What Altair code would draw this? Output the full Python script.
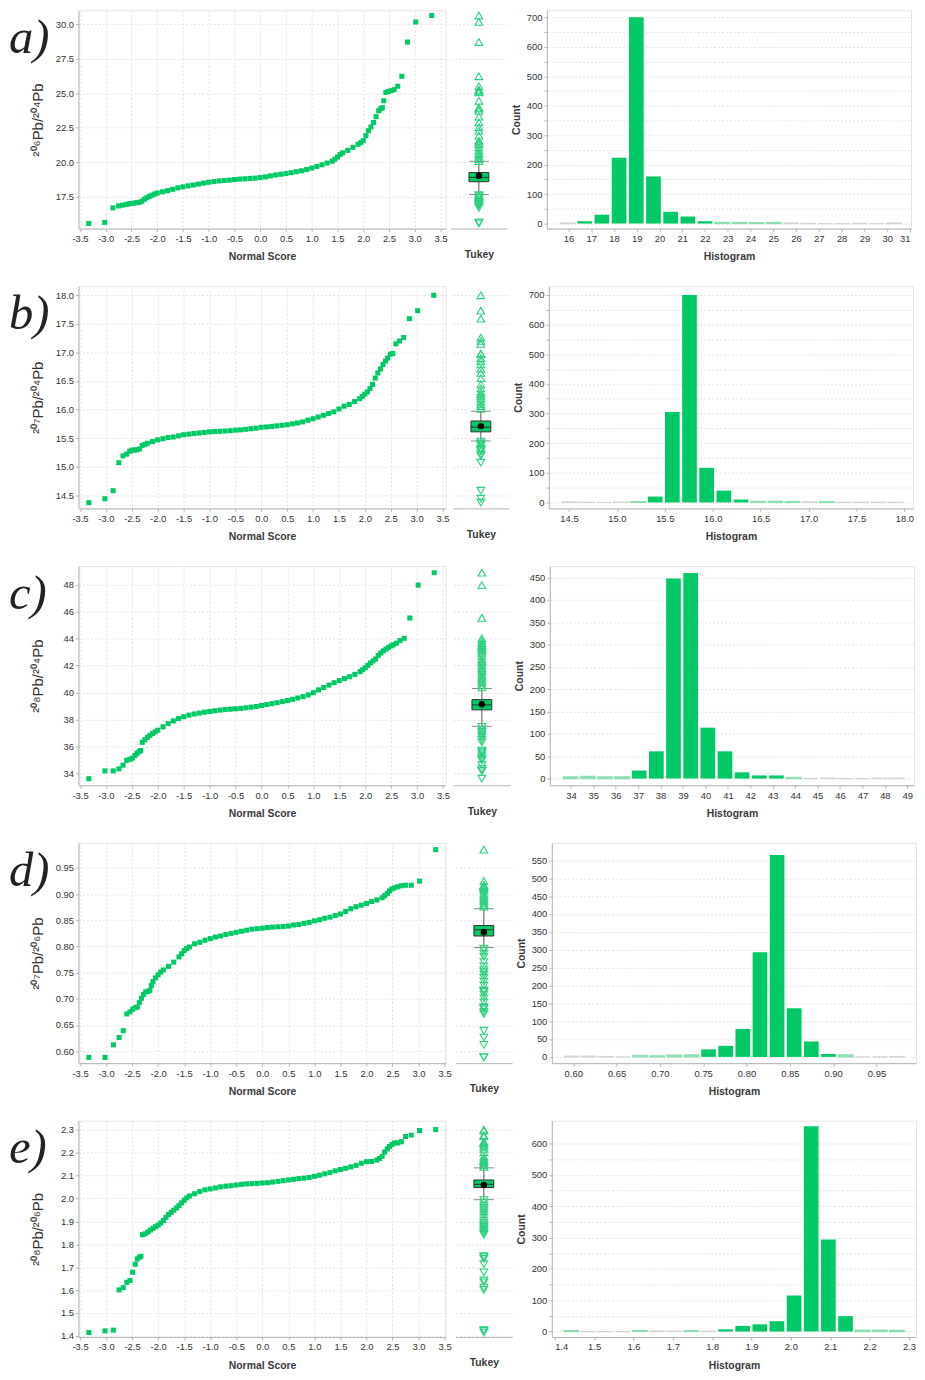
import altair as alt
import pandas as pd

GREEN = "#00c965"
TRI = "#2bd07f"

QQ_XTICKS = [-3.5, -3.0, -2.5, -2.0, -1.5, -1.0, -0.5, 0.0, 0.5, 1.0, 1.5, 2.0, 2.5, 3.0, 3.5]

# ---------------- a) 206Pb/204Pb ----------------
A_LABEL = "a)"
A_TITLE = "²⁰⁶Pb/²⁰⁴Pb"
A_QQ_X = [-3.33, -3.02, -2.86, -2.75, -2.67, -2.60, -2.55, -2.50, -2.45, -2.40, -2.35, -2.30, -2.25,
          -2.20, -2.15, -2.10, -2.05, -2.00, -1.90, -1.80, -1.70, -1.60, -1.50, -1.40, -1.30, -1.20,
          -1.10, -1.00, -0.90, -0.80, -0.70, -0.60, -0.50, -0.40, -0.30, -0.20, -0.10, 0.00, 0.10,
          0.20, 0.30, 0.40, 0.50, 0.60, 0.70, 0.80, 0.90, 1.00, 1.10, 1.20, 1.30, 1.40, 1.45, 1.50,
          1.55, 1.60, 1.70, 1.80, 1.90, 1.95, 2.00, 2.05, 2.10, 2.15, 2.20, 2.25, 2.30, 2.34, 2.37,
          2.40, 2.44, 2.49, 2.54, 2.60, 2.67, 2.75, 2.86, 3.02, 3.33]
A_QQ_Y = [15.57, 15.65, 16.70, 16.84, 16.90, 16.95, 16.99, 17.02, 17.04, 17.07, 17.10, 17.18, 17.32,
          17.44, 17.54, 17.62, 17.70, 17.77, 17.86, 17.94, 18.04, 18.15, 18.22, 18.29, 18.35, 18.42,
          18.49, 18.55, 18.60, 18.65, 18.68, 18.71, 18.75, 18.78, 18.80, 18.83, 18.85, 18.89, 18.94,
          19.01, 19.08, 19.13, 19.18, 19.25, 19.31, 19.38, 19.47, 19.58, 19.70, 19.82, 19.94, 20.08,
          20.22, 20.38, 20.56, 20.68, 20.86, 21.08, 21.30, 21.42, 21.56, 21.92, 22.28, 22.55, 22.88,
          23.30, 23.72, 23.88, 23.95, 24.45, 25.05, 25.12, 25.18, 25.25, 25.50, 26.22, 28.70, 30.15,
          30.62]
# lower whisker, Q1, median, Q3, upper whisker, mean
A_TUKEY = [17.66, 18.59, 18.90, 19.26, 20.07, 19.02]
A_HIST_RANGE = [15.56, 30.66]
A_HIST_COUNT = [2, 8, 30, 223, 700, 160, 40, 24, 8, 4, 4, 3, 4, 2, 1, 0, 0, 1, 0, 2]
A_QQ_YTICKS = [17.5, 20.0, 22.5, 25.0, 27.5, 30.0]
A_QQ_YDOMAIN = [15.2, 31.0]
A_HIST_XTICKS = [16, 17, 18, 19, 20, 21, 22, 23, 24, 25, 26, 27, 28, 29, 30, 31]
A_HIST_XDOMAIN = [15.05, 31.05]
A_HIST_YTICKS = [0, 50, 100, 150, 200, 250, 300, 350, 400, 450, 500, 550, 600, 650, 700]
A_HIST_YDOMAIN = [-17, 724]

# ---------------- b) 207Pb/204Pb ----------------
B_LABEL = "b)"
B_TITLE = "²⁰⁷Pb/²⁰⁴Pb"
B_QQ_X = [-3.33, -3.02, -2.86, -2.75, -2.67, -2.60, -2.54, -2.50, -2.45, -2.40, -2.35, -2.30, -2.25,
          -2.20, -2.10, -2.00, -1.90, -1.80, -1.70, -1.60, -1.50, -1.40, -1.30, -1.20, -1.10, -1.00,
          -0.90, -0.80, -0.70, -0.60, -0.50, -0.40, -0.30, -0.20, -0.10, 0.00, 0.10, 0.20, 0.30,
          0.40, 0.50, 0.60, 0.70, 0.80, 0.90, 1.00, 1.10, 1.20, 1.30, 1.40, 1.50, 1.60, 1.70, 1.80,
          1.90, 1.95, 2.00, 2.05, 2.10, 2.15, 2.20, 2.25, 2.30, 2.35, 2.40, 2.44, 2.49, 2.54, 2.60,
          2.67, 2.75, 2.86, 3.02, 3.33]
B_QQ_Y = [14.37, 14.44, 14.58, 15.07, 15.19, 15.22, 15.27, 15.29, 15.29, 15.295, 15.31, 15.37, 15.39,
          15.41, 15.44, 15.47, 15.49, 15.51, 15.52, 15.54, 15.56, 15.57, 15.58, 15.59, 15.60, 15.61,
          15.615, 15.62, 15.625, 15.63, 15.64, 15.645, 15.655, 15.665, 15.675, 15.69, 15.695, 15.705,
          15.715, 15.725, 15.735, 15.75, 15.765, 15.785, 15.815, 15.84, 15.87, 15.90, 15.93, 15.96,
          16.01, 16.06, 16.09, 16.14, 16.19, 16.23, 16.27, 16.31, 16.37, 16.44, 16.55, 16.64, 16.71,
          16.79, 16.85, 16.90, 16.97, 16.98, 17.15, 17.20, 17.26, 17.59, 17.73, 18.00]
B_TUKEY = [15.45, 15.61, 15.69, 15.80, 15.97, 15.71]
B_HIST_RANGE = [14.41, 17.99]
B_HIST_COUNT = [2, 1, 0, 1, 3, 20, 305, 700, 117, 40, 10, 4, 4, 3, 2, 3, 1, 1, 1, 1]
B_QQ_YTICKS = [14.5, 15.0, 15.5, 16.0, 16.5, 17.0, 17.5, 18.0]
B_QQ_YDOMAIN = [14.27, 18.16]
B_HIST_XTICKS = [14.5, 15.0, 15.5, 16.0, 16.5, 17.0, 17.5, 18.0]
B_HIST_XDOMAIN = [14.29, 18.09]
B_HIST_YTICKS = [0, 50, 100, 150, 200, 250, 300, 350, 400, 450, 500, 550, 600, 650, 700]
B_HIST_YDOMAIN = [-20, 730]

# ---------------- c) 208Pb/204Pb ----------------
C_LABEL = "c)"
C_TITLE = "²⁰⁸Pb/²⁰⁴Pb"
C_QQ_X = [-3.33, -3.02, -2.86, -2.75, -2.67, -2.60, -2.54, -2.49, -2.44, -2.40, -2.36, -2.33, -2.30,
          -2.25, -2.20, -2.15, -2.10, -2.05, -2.00, -1.90, -1.80, -1.70, -1.60, -1.50, -1.40, -1.30,
          -1.20, -1.10, -1.00, -0.90, -0.80, -0.70, -0.60, -0.50, -0.40, -0.30, -0.20, -0.10, 0.00,
          0.10, 0.20, 0.30, 0.40, 0.50, 0.60, 0.70, 0.80, 0.90, 1.00, 1.10, 1.20, 1.30, 1.40, 1.50,
          1.60, 1.70, 1.80, 1.90, 1.95, 2.00, 2.05, 2.10, 2.15, 2.20, 2.25, 2.30, 2.35, 2.40, 2.45,
          2.50, 2.54, 2.60, 2.67, 2.75, 2.86, 3.02, 3.33]
C_QQ_Y = [33.61, 34.19, 34.19, 34.34, 34.61, 34.97, 35.05, 35.14, 35.34, 35.50, 35.62, 35.70, 36.31,
          36.50, 36.68, 36.83, 36.97, 37.09, 37.21, 37.46, 37.70, 37.90, 38.07, 38.21, 38.33, 38.41,
          38.48, 38.55, 38.60, 38.65, 38.70, 38.74, 38.77, 38.80, 38.83, 38.87, 38.92, 38.97, 39.04,
          39.11, 39.18, 39.25, 39.33, 39.41, 39.50, 39.60, 39.70, 39.83, 40.00, 40.20, 40.38, 40.56,
          40.74, 40.89, 41.04, 41.18, 41.35, 41.56, 41.70, 41.84, 42.02, 42.20, 42.35, 42.50, 42.75,
          42.94, 43.10, 43.23, 43.36, 43.47, 43.55, 43.67, 43.86, 44.03, 45.54, 47.98, 48.90]
C_TUKEY = [37.50, 38.72, 39.09, 39.48, 40.30, 39.14]
C_HIST_RANGE = [33.58, 48.88]
C_HIST_COUNT = [4, 5, 4, 4, 18, 61, 448, 460, 114, 61, 14, 7, 7, 3, 0, 1, 0, 0, 1, 1]
C_QQ_YTICKS = [34, 36, 38, 40, 42, 44, 46, 48]
C_QQ_YDOMAIN = [33.12, 49.4]
C_HIST_XTICKS = [34, 35, 36, 37, 38, 39, 40, 41, 42, 43, 44, 45, 46, 47, 48, 49]
C_HIST_XDOMAIN = [33.06, 49.3]
C_HIST_YTICKS = [0, 50, 100, 150, 200, 250, 300, 350, 400, 450]
C_HIST_YDOMAIN = [-15, 476]

# ---------------- d) 207Pb/206Pb ----------------
D_LABEL = "d)"
D_TITLE = "²⁰⁷Pb/²⁰⁶Pb"
D_QQ_X = [-3.33, -3.02, -2.86, -2.75, -2.67, -2.60, -2.54, -2.49, -2.44, -2.40, -2.36, -2.32, -2.28,
          -2.24, -2.20, -2.16, -2.13, -2.10, -2.05, -2.00, -1.95, -1.90, -1.80, -1.70, -1.60, -1.55,
          -1.50, -1.45, -1.40, -1.30, -1.20, -1.10, -1.00, -0.90, -0.80, -0.70, -0.60, -0.50, -0.40,
          -0.30, -0.20, -0.10, 0.00, 0.10, 0.20, 0.30, 0.40, 0.50, 0.60, 0.70, 0.80, 0.90, 1.00, 1.10,
          1.20, 1.30, 1.40, 1.50, 1.60, 1.70, 1.80, 1.90, 2.00, 2.10, 2.20, 2.30, 2.35, 2.40, 2.44,
          2.49, 2.54, 2.60, 2.67, 2.75, 2.86, 3.02, 3.33]
D_QQ_Y = [0.588, 0.588, 0.612, 0.626, 0.639, 0.671, 0.675, 0.680, 0.683, 0.684, 0.693, 0.701, 0.708,
          0.713, 0.714, 0.716, 0.725, 0.733, 0.740, 0.746, 0.751, 0.755, 0.762, 0.770, 0.780, 0.786,
          0.792, 0.796, 0.799, 0.805, 0.808, 0.812, 0.815, 0.818, 0.820, 0.823, 0.825, 0.827, 0.829,
          0.831, 0.833, 0.834, 0.835, 0.836, 0.837, 0.8375, 0.838, 0.839, 0.841, 0.842, 0.844, 0.846,
          0.849, 0.851, 0.854, 0.856, 0.859, 0.862, 0.867, 0.872, 0.876, 0.879, 0.882, 0.886, 0.889,
          0.893, 0.897, 0.901, 0.906, 0.910, 0.912, 0.914, 0.916, 0.917, 0.917, 0.925, 0.985]
D_TUKEY = [0.798, 0.820, 0.832, 0.840, 0.872, 0.827]
D_HIST_RANGE = [0.5875, 0.983]
D_HIST_COUNT = [2, 2, 1, 0, 4, 3, 5, 6, 21, 31, 78, 293, 565, 136, 43, 8, 6, 0, 0, 1]
D_QQ_YTICKS = [0.60, 0.65, 0.70, 0.75, 0.80, 0.85, 0.90, 0.95]
D_QQ_YDOMAIN = [0.577, 0.998]
D_HIST_XTICKS = [0.60, 0.65, 0.70, 0.75, 0.80, 0.85, 0.90, 0.95]
D_HIST_XDOMAIN = [0.5753, 0.9956]
D_HIST_YTICKS = [0, 50, 100, 150, 200, 250, 300, 350, 400, 450, 500, 550]
D_HIST_YDOMAIN = [-17.5, 599]

# ---------------- e) 208Pb/206Pb ----------------
E_LABEL = "e)"
E_TITLE = "²⁰⁸Pb/²⁰⁶Pb"
E_QQ_X = [-3.33, -3.02, -2.86, -2.75, -2.67, -2.60, -2.54, -2.49, -2.44, -2.40, -2.36, -2.33, -2.30,
          -2.25, -2.20, -2.15, -2.10, -2.05, -2.00, -1.95, -1.90, -1.85, -1.80, -1.75, -1.70, -1.65,
          -1.60, -1.55, -1.50, -1.45, -1.40, -1.30, -1.20, -1.10, -1.00, -0.90, -0.80, -0.70, -0.60,
          -0.50, -0.40, -0.30, -0.20, -0.10, 0.00, 0.10, 0.20, 0.30, 0.40, 0.50, 0.60, 0.70, 0.80,
          0.90, 1.00, 1.10, 1.20, 1.30, 1.40, 1.50, 1.60, 1.70, 1.80, 1.90, 2.00, 2.10, 2.20, 2.25,
          2.30, 2.35, 2.40, 2.44, 2.49, 2.54, 2.60, 2.67, 2.75, 2.86, 3.02, 3.33]
E_QQ_Y = [1.415, 1.422, 1.425, 1.601, 1.611, 1.634, 1.642, 1.678, 1.713, 1.736, 1.744, 1.748, 1.842,
          1.846, 1.853, 1.862, 1.870, 1.877, 1.884, 1.893, 1.904, 1.918, 1.930, 1.940, 1.949, 1.959,
          1.969, 1.981, 1.993, 2.003, 2.011, 2.021, 2.031, 2.038, 2.042, 2.046, 2.051, 2.054, 2.056,
          2.059, 2.062, 2.064, 2.065, 2.066, 2.068, 2.069, 2.072, 2.075, 2.078, 2.081, 2.084, 2.087,
          2.089, 2.092, 2.097, 2.102, 2.108, 2.114, 2.121, 2.127, 2.132, 2.138, 2.145, 2.154, 2.161,
          2.162, 2.168, 2.175, 2.184, 2.203, 2.217, 2.227, 2.236, 2.243, 2.243, 2.248, 2.271, 2.277,
          2.297, 2.301]
E_TUKEY = [1.995, 2.048, 2.062, 2.081, 2.134, 2.059]
E_HIST_RANGE = [1.419, 2.29]
E_HIST_COUNT = [3, 0, 0, 0, 3, 2, 1, 3, 1, 7, 18, 23, 33, 115, 655, 294, 49, 5, 5, 4]
E_QQ_YTICKS = [1.4, 1.5, 1.6, 1.7, 1.8, 1.9, 2.0, 2.1, 2.2, 2.3]
E_QQ_YDOMAIN = [1.395, 2.34]
E_HIST_XTICKS = [1.4, 1.5, 1.6, 1.7, 1.8, 1.9, 2.0, 2.1, 2.2, 2.3]
E_HIST_XDOMAIN = [1.3925, 2.318]
E_HIST_YTICKS = [0, 50, 100, 150, 200, 250, 300, 350, 400, 450, 500, 550, 600]
E_HIST_YDOMAIN = [-17.5, 673]

NEG_EXPR = "datum.value < 0 ? '-' + format(-datum.value, '.1f') : format(datum.value, '.1f')"
HIST_W = 367
TUKEY_W = 57
QQ_W = 370


def qq_panel(label, ytitle, xs, ys, ydom, yticks, yfmt, xmax, h):
    df = pd.DataFrame({"score": xs, "value": ys})
    pts = alt.Chart(df).mark_square(size=26, color=GREEN, opacity=1).encode(
        x=alt.X("score:Q", scale=alt.Scale(domain=[-3.53, xmax], nice=False, zero=False),
                axis=alt.Axis(values=QQ_XTICKS, labelExpr=NEG_EXPR, title="Normal Score")),
        y=alt.Y("value:Q", scale=alt.Scale(domain=ydom, nice=False, zero=False),
                axis=alt.Axis(values=yticks, format=yfmt, title=ytitle, titleX=-41,
                              titleY=h / 2, titleAngle=270, titleBaseline="middle",
                              titleAlign="center", titleFontSize=15, titleFontWeight="normal",
                              titleColor="#333333")),
    )
    lab = alt.Chart(pd.DataFrame({"t": [label]})).mark_text(
        font="Liberation Serif", fontStyle="italic", fontSize=49, align="left",
        baseline="top", color="#222222",
    ).encode(text="t:N", x=alt.value(-70), y=alt.value(4))
    return alt.layer(pts, lab).properties(width=QQ_W, height=h)


def tukey_panel(ys, stats, ydom, yticks, h):
    lo, q1, med, q3, hi, mean = stats
    high = [v for v in ys if v > hi]
    low = [v for v in ys if v < lo]
    st = pd.DataFrame({"g": ["Tukey"], "lo": [lo], "q1": [q1], "med": [med],
                       "q3": [q3], "hi": [hi], "mean": [mean]})
    X = alt.X("g:N", scale=alt.Scale(paddingInner=0, paddingOuter=0),
              axis=alt.Axis(labels=False, ticks=False, grid=False, title="Tukey", titlePadding=21))
    ysc = alt.Scale(domain=ydom, nice=False, zero=False)
    yax = alt.Axis(values=yticks, labels=False, ticks=False, domain=False, grid=True, title="")

    def Y(f):
        return alt.Y(f, scale=ysc, axis=yax)

    base = alt.Chart(st)
    w_lo = base.mark_rule(color="#555555", strokeWidth=1).encode(x=X, y=Y("lo:Q"), y2="q1:Q")
    w_hi = base.mark_rule(color="#555555", strokeWidth=1).encode(x=X, y=Y("q3:Q"), y2="hi:Q")
    c_lo = base.mark_tick(size=20, thickness=1, color="#555555").encode(x=X, y=Y("lo:Q"))
    c_hi = base.mark_tick(size=20, thickness=1, color="#555555").encode(x=X, y=Y("hi:Q"))
    box = base.mark_bar(size=20, color=GREEN, stroke="#333333", strokeWidth=1).encode(
        x=X, y=Y("q1:Q"), y2="q3:Q")
    med_t = base.mark_tick(size=20, thickness=1.2, color="#222222").encode(x=X, y=Y("med:Q"))
    mean_p = base.mark_circle(size=42, color="#000000", opacity=1).encode(x=X, y=Y("mean:Q"))
    up = alt.Chart(pd.DataFrame({"g": ["Tukey"] * len(high), "value": high})).mark_point(
        shape="triangle-up", filled=False, color=TRI, size=60, strokeWidth=1.1, opacity=1
    ).encode(x=X, y=Y("value:Q"))
    down = alt.Chart(pd.DataFrame({"g": ["Tukey"] * len(low), "value": low})).mark_point(
        shape="triangle-down", filled=False, color=TRI, size=60, strokeWidth=1.1, opacity=1
    ).encode(x=X, y=Y("value:Q"))
    return alt.layer(w_lo, w_hi, c_lo, c_hi, box, med_t, mean_p, up, down).properties(
        width=TUKEY_W, height=h, view=alt.ViewBackground(stroke="transparent"))


def hist_panel(rng, counts, xdom, xticks, xfmt, ydom, yticks, minor, h):
    lo, hi = rng
    n = len(counts)
    step = (hi - lo) / n
    df = pd.DataFrame({
        "start": [lo + i * step for i in range(n)],
        "end": [lo + (i + 1) * step for i in range(n)],
        "n": counts,
    })
    yexpr = "datum.value % 100 === 0 ? datum.label : ''" if minor else "datum.label"
    return alt.Chart(df).transform_calculate(
        shade="datum.n <= 2 ? '#d4d4d4' : (datum.n <= 6 ? '#8ddfb2' : '" + GREEN + "')",
        sw="datum.n <= 6 ? 1.2 : 0",
    ).mark_bar(binSpacing=2.5).encode(
        x=alt.X("start:Q", bin="binned", scale=alt.Scale(domain=xdom, nice=False, zero=False),
                axis=alt.Axis(values=xticks, format=xfmt, title="Histogram", labelFlush=3)),
        x2="end:Q",
        y=alt.Y("n:Q", scale=alt.Scale(domain=ydom, nice=False, zero=False),
                axis=alt.Axis(values=yticks, labelExpr=yexpr, title="Count", titleX=-31,
                              titleY=h / 2, titleAngle=270, titleBaseline="middle",
                              titleAlign="center")),
        y2=alt.datum(0),
        fill=alt.Fill("shade:N", scale=None),
        stroke=alt.Stroke("shade:N", scale=None),
        strokeWidth=alt.StrokeWidth("sw:Q", scale=None),
    ).properties(width=HIST_W, height=h)


ROWS = [
    (A_LABEL, A_TITLE, A_QQ_X, A_QQ_Y, A_QQ_YDOMAIN, A_QQ_YTICKS, ".1f", A_TUKEY,
     A_HIST_RANGE, A_HIST_COUNT, A_HIST_XDOMAIN, A_HIST_XTICKS, "d", A_HIST_YDOMAIN, A_HIST_YTICKS, True,
     dict(xmax=3.6, h=220)),
    (B_LABEL, B_TITLE, B_QQ_X, B_QQ_Y, B_QQ_YDOMAIN, B_QQ_YTICKS, ".1f", B_TUKEY,
     B_HIST_RANGE, B_HIST_COUNT, B_HIST_XDOMAIN, B_HIST_XTICKS, ".1f", B_HIST_YDOMAIN, B_HIST_YTICKS, True,
     dict(xmax=3.56, h=224)),
    (C_LABEL, C_TITLE, C_QQ_X, C_QQ_Y, C_QQ_YDOMAIN, C_QQ_YTICKS, "d", C_TUKEY,
     C_HIST_RANGE, C_HIST_COUNT, C_HIST_XDOMAIN, C_HIST_XTICKS, "d", C_HIST_YDOMAIN, C_HIST_YTICKS, False,
     dict(xmax=3.55, h=221)),
    (D_LABEL, D_TITLE, D_QQ_X, D_QQ_Y, D_QQ_YDOMAIN, D_QQ_YTICKS, ".2f", D_TUKEY,
     D_HIST_RANGE, D_HIST_COUNT, D_HIST_XDOMAIN, D_HIST_XTICKS, ".2f", D_HIST_YDOMAIN, D_HIST_YTICKS, False,
     dict(xmax=3.52, h=222)),
    (E_LABEL, E_TITLE, E_QQ_X, E_QQ_Y, E_QQ_YDOMAIN, E_QQ_YTICKS, ".1f", E_TUKEY,
     E_HIST_RANGE, E_HIST_COUNT, E_HIST_XDOMAIN, E_HIST_XTICKS, ".1f", E_HIST_YDOMAIN, E_HIST_YTICKS, True,
     dict(xmax=3.52, h=218)),
]

rows = []
for (label, title, qx, qy, qdom, qticks, qfmt, tukey, hrng, hcnt, hxdom, hxticks, hxfmt,
     hydom, hyticks, minor, lay) in ROWS:
    qq = qq_panel(label, title, qx, qy, qdom, qticks, qfmt, lay["xmax"], lay["h"])
    tk = tukey_panel(qy, tukey, qdom, qticks, lay["h"])
    hs = hist_panel(hrng, hcnt, hxdom, hxticks, hxfmt, hydom, hyticks, minor, lay["h"])
    rows.append(alt.hconcat(qq, tk, hs, spacing=2))

chart = alt.vconcat(*rows, spacing=22).properties(
    padding={"left": 0, "top": -4, "right": 0, "bottom": 0}
).configure(
    font="Liberation Sans"
).configure_axis(
    labelFont="Liberation Sans", labelFontSize=9.5, labelColor="#333333",
    titleFont="Liberation Sans", titleFontSize=10.5, titleFontWeight="bold", titleColor="#3a3a3a",
    gridColor="#e2e2e2", gridDash=[2, 2], domainColor="#b5b5b5", tickColor="#b5b5b5",
    tickSize=3, labelPadding=2, titlePadding=9,
).configure_view(stroke="#e6e6e6")

chart.save("out.html", embed_options={"renderer": "svg", "actions": False})
